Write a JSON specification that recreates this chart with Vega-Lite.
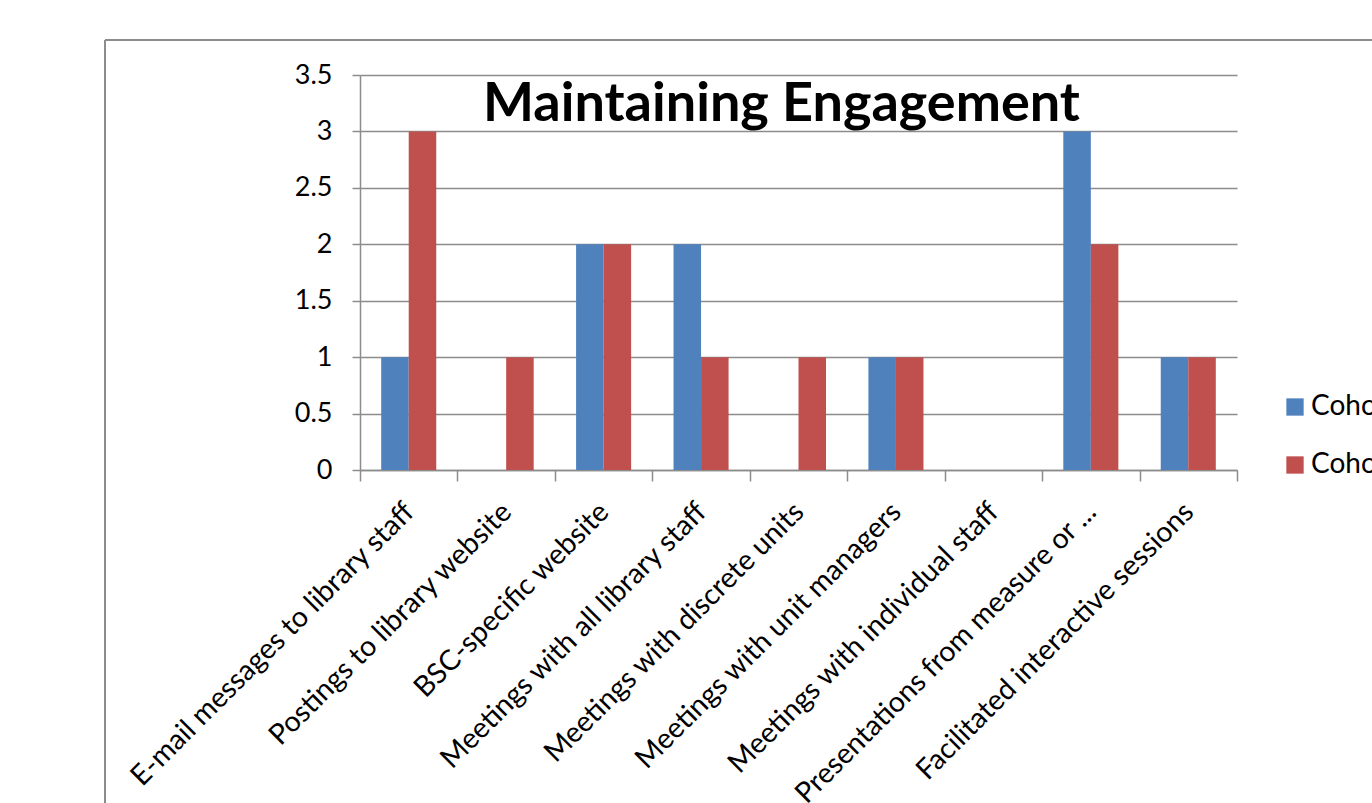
{
  "$schema": "https://vega.github.io/schema/vega-lite/v6.json",
  "autosize": {"type": "none"},
  "width": 1267,
  "height": 763,
  "padding": {"left": 105, "top": 40, "right": 0, "bottom": 0},
  "background": "white",
  "title": {
    "text": "Maintaining Engagement",
    "anchor": "start",
    "frame": "group",
    "dx": 378,
    "offset": -135,
    "baseline": "alphabetic",
    "font": "Lato",
    "fontSize": 54,
    "fontWeight": "bold",
    "color": "#000000"
  },
  "data": {
    "values": [
      {"method": "E-mail messages to library staff", "series": "Cohort 1", "value": 1},
      {"method": "E-mail messages to library staff", "series": "Cohort 2", "value": 3},
      {"method": "Postings to library website", "series": "Cohort 1", "value": 0},
      {"method": "Postings to library website", "series": "Cohort 2", "value": 1},
      {"method": "BSC-specific website", "series": "Cohort 1", "value": 2},
      {"method": "BSC-specific website", "series": "Cohort 2", "value": 2},
      {"method": "Meetings with all library staff", "series": "Cohort 1", "value": 2},
      {"method": "Meetings with all library staff", "series": "Cohort 2", "value": 1},
      {"method": "Meetings with discrete units", "series": "Cohort 1", "value": 0},
      {"method": "Meetings with discrete units", "series": "Cohort 2", "value": 1},
      {"method": "Meetings with unit managers", "series": "Cohort 1", "value": 1},
      {"method": "Meetings with unit managers", "series": "Cohort 2", "value": 1},
      {"method": "Meetings with individual staff", "series": "Cohort 1", "value": 0},
      {"method": "Meetings with individual staff", "series": "Cohort 2", "value": 0},
      {"method": "Presentations from measure or ...", "series": "Cohort 1", "value": 3},
      {"method": "Presentations from measure or ...", "series": "Cohort 2", "value": 2},
      {"method": "Facilitated interactive sessions", "series": "Cohort 1", "value": 1},
      {"method": "Facilitated interactive sessions", "series": "Cohort 2", "value": 1}
    ]
  },
  "mark": {"type": "bar"},
  "encoding": {
    "x": {
      "field": "method",
      "type": "nominal",
      "sort": null,
      "scale": {"range": [255, 1132], "paddingInner": 0, "paddingOuter": 0},
      "axis": {
        "title": null,
        "offset": -333,
        "grid": false,
        "tickBand": "extent",
        "tickSize": 11,
        "tickWidth": 1.5,
        "tickColor": "#8c8c8c",
        "domainColor": "#8c8c8c",
        "domainWidth": 1.5,
        "labelAngle": -45,
        "labelAlign": "right",
        "labelBaseline": "middle",
        "labelFont": "Lato",
        "labelFontSize": 28.5,
        "labelColor": "#000000",
        "labelPadding": 26,
        "labelLimit": 800,
        "labelOverlap": false
      }
    },
    "xOffset": {
      "field": "series",
      "type": "nominal",
      "scale": {"paddingInner": 0, "paddingOuter": 0.77}
    },
    "y": {
      "field": "value",
      "type": "quantitative",
      "scale": {"domain": [0, 3.5], "range": [430, 35], "nice": false},
      "axis": {
        "title": null,
        "offset": -255,
        "values": [0, 0.5, 1, 1.5, 2, 2.5, 3, 3.5],
        "format": ".1~f",
        "grid": true,
        "gridColor": "#8c8c8c",
        "gridWidth": 1.5,
        "domainColor": "#8c8c8c",
        "domainWidth": 1.5,
        "tickColor": "#8c8c8c",
        "tickWidth": 1.5,
        "tickSize": 8,
        "labelFont": "Lato",
        "labelFontSize": 27,
        "labelColor": "#000000",
        "labelPadding": 20,
        "labelFlush": false,
        "labelOverlap": false
      }
    },
    "color": {
      "field": "series",
      "type": "nominal",
      "scale": {"range": ["#4F81BD", "#C0504D"]},
      "legend": {
        "orient": "none",
        "legendX": 1176,
        "legendY": 353,
        "title": null,
        "symbolType": "square",
        "symbolSize": 300,
        "symbolStrokeWidth": 0,
        "labelFont": "Lato",
        "labelFontSize": 28,
        "labelColor": "#000000",
        "labelOffset": 2,
        "rowPadding": 30
      }
    }
  },
  "config": {
    "view": {"stroke": "#8c8c8c", "strokeWidth": 2, "strokeDash": [1267, 2030, 763, 0]}
  }
}
